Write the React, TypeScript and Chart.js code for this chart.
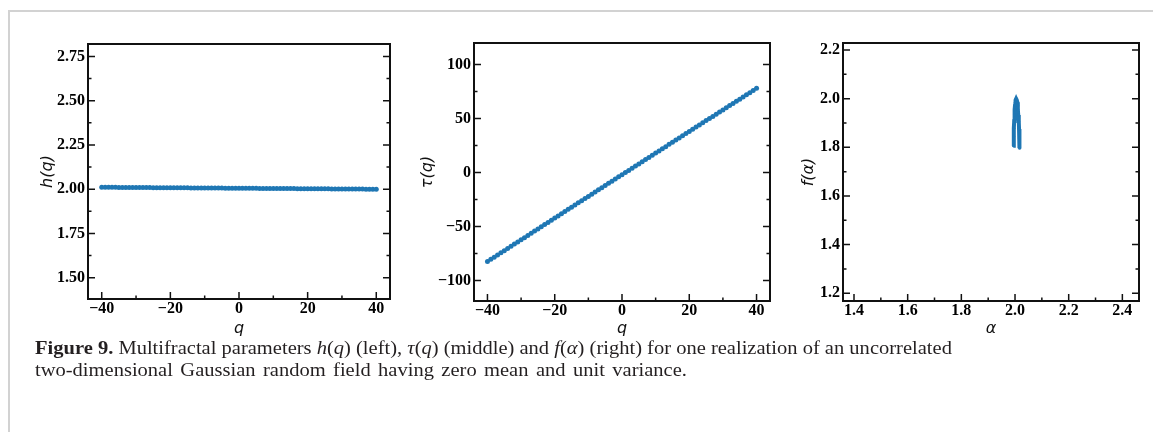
import React, { useEffect, useRef } from "react";
import { Chart, registerables } from "chart.js";

Chart.register(...registerables);

// ---------- data ----------
const qValues = [
  -40, -39, -38, -37, -36, -35, -34, -33, -32, -31, -30, -29, -28, -27, -26, -25, -24, -23, -22, -21,
  -20, -19, -18, -17, -16, -15, -14, -13, -12, -11, -10, -9, -8, -7, -6, -5, -4, -3, -2, -1,
  0, 1, 2, 3, 4, 5, 6, 7, 8, 9, 10, 11, 12, 13, 14, 15, 16, 17, 18, 19,
  20, 21, 22, 23, 24, 25, 26, 27, 28, 29, 30, 31, 32, 33, 34, 35, 36, 37, 38, 39, 40,
];

const hValues = [
  2.011, 2.0109, 2.0107, 2.0106, 2.0105, 2.0103, 2.0102, 2.01, 2.0099, 2.0098,
  2.0096, 2.0095, 2.0094, 2.0092, 2.0091, 2.0089, 2.0088, 2.0087, 2.0085, 2.0084,
  2.0083, 2.0081, 2.008, 2.0078, 2.0077, 2.0076, 2.0074, 2.0073, 2.0072, 2.007,
  2.0069, 2.0067, 2.0066, 2.0065, 2.0063, 2.0062, 2.0061, 2.0059, 2.0058, 2.0056,
  2.0055, 2.0054, 2.0052, 2.0051, 2.005, 2.0048, 2.0047, 2.0045, 2.0044, 2.0043,
  2.0041, 2.004, 2.0039, 2.0037, 2.0036, 2.0034, 2.0033, 2.0032, 2.003, 2.0029,
  2.0028, 2.0026, 2.0025, 2.0023, 2.0022, 2.0021, 2.0019, 2.0018, 2.0017, 2.0015,
  2.0014, 2.0012, 2.0011, 2.001, 2.0008, 2.0007, 2.0006, 2.0004, 2.0003, 2.0001, 2.0,
];

const tauValues = [
  -82.4, -80.4, -78.4, -76.4, -74.4, -72.4, -70.3, -68.3, -66.3, -64.3,
  -62.3, -60.3, -58.3, -56.2, -54.2, -52.2, -50.2, -48.2, -46.2, -44.2,
  -42.2, -40.2, -38.1, -36.1, -34.1, -32.1, -30.1, -28.1, -26.1, -24.1,
  -22.1, -20.1, -18.1, -16.0, -14.0, -12.0, -10.0, -8.0, -6.0, -4.0,
  -2.0, 0.0, 2.0, 4.0, 6.0, 8.0, 10.0, 12.0, 14.0, 16.0,
  18.0, 20.0, 22.0, 24.0, 26.1, 28.1, 30.1, 32.1, 34.1, 36.1,
  38.1, 40.1, 42.1, 44.1, 46.1, 48.1, 50.0, 52.0, 54.0, 56.0,
  58.0, 60.0, 62.0, 64.0, 66.0, 68.0, 70.0, 72.0, 74.0, 76.0, 78.0,
];

const alphaValues = [
  1.994, 1.995, 1.996, 1.997, 1.998, 1.999, 2.0, 2.001, 2.003, 2.004, 2.005,
  2.006, 2.007, 2.009, 2.01, 2.011, 2.012, 2.014, 2.015, 2.016, 2.017,
];
const fValues = [
  1.806, 1.845, 1.878, 1.908, 1.934, 1.955, 1.972, 1.985, 1.994, 1.999, 2.0,
  1.999, 1.994, 1.985, 1.972, 1.955, 1.933, 1.906, 1.875, 1.838, 1.796,
];

// ticks
const qTicks = [-40, -20, 0, 20, 40];
const qMinor = [-30, -10, 10, 30];
const hTicks = [1.5, 1.75, 2.0, 2.25, 2.5, 2.75];
const hMinor = [1.625, 1.875, 2.125, 2.375, 2.625];
const tauTicks = [-100, -50, 0, 50, 100];
const tauMinor = [-75, -25, 25, 75];
const alphaTicks = [1.4, 1.6, 1.8, 2.0, 2.2, 2.4];
const alphaMinor = [1.5, 1.7, 1.9, 2.1, 2.3];
const fTicks = [1.2, 1.4, 1.6, 1.8, 2.0, 2.2];
const fMinor = [1.3, 1.5, 1.7, 1.9, 2.1];

const BLUE = "#1f77b4";
const TICK_FONT = { family: '"Liberation Serif", "Times New Roman", serif', size: 16, weight: "bold" as const };
const TITLE_FONT = { family: '"DejaVu Sans", sans-serif', size: 16, style: "italic" as const };

function fmt(v: number, dec: number) {
  const s = Math.abs(v).toFixed(dec);
  return v < 0 ? "\u2212" + s : s;
}

const framePlugin = {
  id: "frame",
  afterDraw(chart: any, _args: any, opts: any) {
    const { ctx, chartArea: a, scales } = chart;
    const x = scales.x;
    const y = scales.y;
    ctx.save();
    ctx.strokeStyle = "#111";
    ctx.lineWidth = 1.5;
    const MAJ = 7;
    const MIN = 3.5;
    ctx.beginPath();
    (opts.xMajor || []).forEach((v: number) => {
      const px = x.getPixelForValue(v);
      ctx.moveTo(px, a.bottom);
      ctx.lineTo(px, a.bottom - MAJ);
    });
    (opts.xMinor || []).forEach((v: number) => {
      const px = x.getPixelForValue(v);
      ctx.moveTo(px, a.bottom);
      ctx.lineTo(px, a.bottom - MIN);
    });
    (opts.yMajor || []).forEach((v: number) => {
      const py = y.getPixelForValue(v);
      ctx.moveTo(a.left, py);
      ctx.lineTo(a.left + MAJ, py);
      ctx.moveTo(a.right, py);
      ctx.lineTo(a.right - MAJ, py);
    });
    (opts.yMinor || []).forEach((v: number) => {
      const py = y.getPixelForValue(v);
      ctx.moveTo(a.left, py);
      ctx.lineTo(a.left + MIN, py);
      ctx.moveTo(a.right, py);
      ctx.lineTo(a.right - MIN, py);
    });
    ctx.stroke();
    ctx.lineWidth = 2;
    ctx.strokeRect(a.left, a.top, a.right - a.left, a.bottom - a.top);
    ctx.restore();
  },
};

type Spec = {
  left: number;
  width: number;
  height: number;
  padTop: number;
  padRight: number;
  yAxisWidth: number;
  xAxisHeight: number;
  xs: number[];
  ys: number[];
  line: boolean;
  xMin: number;
  xMax: number;
  yMin: number;
  yMax: number;
  xTicks: number[];
  xMinorT: number[];
  yTicks: number[];
  yMinorT: number[];
  xDec: number;
  yDec: number;
  xTitle: string;
  yTitle: string;
  yTitlePad: number;
  xTitlePad: number;
};

function Panel({ s }: { s: Spec }) {
  const ref = useRef<HTMLCanvasElement>(null);
  useEffect(() => {
    const pts = s.xs.map((v, i) => ({ x: v, y: s.ys[i] }));
    const chart = new Chart(ref.current as HTMLCanvasElement, {
      type: "scatter",
      data: {
        datasets: [
          {
            data: pts,
            showLine: s.line,
            borderColor: BLUE,
            backgroundColor: BLUE,
            borderWidth: s.line ? 4 : 0,
            pointRadius: s.line ? 1.5 : 2.5,
            pointBorderWidth: 0,
            pointBackgroundColor: BLUE,
          } as any,
        ],
      },
      options: {
        animation: false,
        responsive: false,
        devicePixelRatio: 1,
        events: [],
        layout: { padding: { top: s.padTop, right: s.padRight, left: 0, bottom: 0 } },
        plugins: {
          legend: { display: false },
          tooltip: { enabled: false },
          frame: { xMajor: s.xTicks, xMinor: s.xMinorT, yMajor: s.yTicks, yMinor: s.yMinorT },
        } as any,
        scales: {
          x: {
            type: "linear",
            min: s.xMin,
            max: s.xMax,
            grid: { display: false, drawTicks: false },
            border: { display: false },
            ticks: {
              font: TICK_FONT,
              color: "#000",
              padding: 0,
              maxRotation: 0,
              autoSkip: false,
              callback: (v: any) => fmt(Number(v), s.xDec),
            },
            title: {
              display: true,
              text: s.xTitle,
              font: TITLE_FONT,
              color: "#111",
              padding: { top: 0, bottom: s.xTitlePad },
            },
            afterBuildTicks: (sc: any) => {
              sc.ticks = s.xTicks.map((v) => ({ value: v }));
            },
            afterFit: (sc: any) => {
              sc.height = s.xAxisHeight;
            },
          },
          y: {
            type: "linear",
            min: s.yMin,
            max: s.yMax,
            grid: { display: false, drawTicks: false },
            border: { display: false },
            ticks: {
              font: TICK_FONT,
              color: "#000",
              padding: 3,
              autoSkip: false,
              callback: (v: any) => fmt(Number(v), s.yDec),
            },
            title: {
              display: true,
              text: s.yTitle,
              font: TITLE_FONT,
              color: "#111",
              padding: { top: s.yTitlePad, bottom: 0 },
            },
            afterBuildTicks: (sc: any) => {
              sc.ticks = s.yTicks.map((v) => ({ value: v }));
            },
            afterFit: (sc: any) => {
              sc.width = s.yAxisWidth;
            },
          },
        },
      },
      plugins: [framePlugin as any],
    });
    return () => chart.destroy();
  }, []);
  return (
    <canvas
      ref={ref}
      width={s.width}
      height={s.height}
      style={{ position: "absolute", left: s.left, top: 0, width: s.width, height: s.height }}
    />
  );
}

const H = 360;

const panels: Spec[] = [
  {
    left: 0, width: 394, height: H, padTop: 44, padRight: 3, yAxisWidth: 88, xAxisHeight: H - 299,
    xs: qValues, ys: hValues, line: false,
    xMin: -44, xMax: 44, yMin: 1.38, yMax: 2.82,
    xTicks: qTicks, xMinorT: qMinor, yTicks: hTicks, yMinorT: hMinor, xDec: 0, yDec: 2,
    xTitle: "q", yTitle: "h(q)", yTitlePad: 38.4, xTitlePad: 22,
  },
  {
    left: 394, width: 380, height: H, padTop: 43, padRight: 3, yAxisWidth: 80, xAxisHeight: H - 301,
    xs: qValues, ys: tauValues, line: false,
    xMin: -44, xMax: 44, yMin: -119, yMax: 120,
    xTicks: qTicks, xMinorT: qMinor, yTicks: tauTicks, yMinorT: tauMinor, xDec: 0, yDec: 0,
    xTitle: "q", yTitle: "\u03c4(q)", yTitlePad: 24, xTitlePad: 22,
  },
  {
    left: 774, width: 369, height: H, padTop: 43, padRight: 3, yAxisWidth: 69, xAxisHeight: H - 301,
    xs: alphaValues, ys: fValues, line: true,
    xMin: 1.359, xMax: 2.462, yMin: 1.168, yMax: 2.229,
    xTicks: alphaTicks, xMinorT: alphaMinor, yTicks: fTicks, yMinorT: fMinor, xDec: 1, yDec: 1,
    xTitle: "\u03b1", yTitle: "f(\u03b1)", yTitlePad: 25.4, xTitlePad: 22,
  },
];

export default function App() {
  return (
    <div
      style={{
        position: "absolute",
        left: 0,
        top: 0,
        width: 1153,
        height: 432,
        background: "#fff",
        overflow: "hidden",
      }}
    >
      <div
        style={{
          position: "absolute",
          left: 8,
          top: 10,
          width: 1200,
          height: 500,
          borderTop: "2px solid #d2d2d2",
          borderLeft: "2px solid #d2d2d2",
        }}
      />
      {panels.map((p, i) => (
        <Panel key={i} s={p} />
      ))}
      <div
        style={{
          position: "absolute",
          left: 35,
          top: 337,
          fontFamily: '"Liberation Serif", "Times New Roman", serif',
          fontSize: 18,
          lineHeight: "22px",
          color: "#231f20",
          whiteSpace: "nowrap",
          transform: "scaleX(1.14)",
          transformOrigin: "0 0",
        }}
      >
        <div>
          <b>Figure 9.</b> Multifractal parameters <i>h</i>(<i>q</i>) (left), <i>τ</i>(<i>q</i>) (middle) and{" "}
          <i>f</i>(<i>α</i>) (right) for one realization of an uncorrelated
        </div>
        <div style={{ wordSpacing: "2px" }}>
          two-dimensional Gaussian random field having zero mean and unit variance.
        </div>
      </div>
    </div>
  );
}
